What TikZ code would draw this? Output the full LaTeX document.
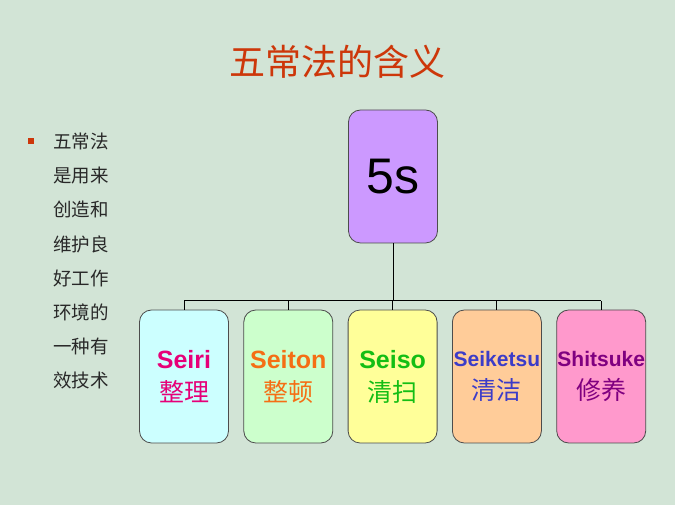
\documentclass[tikz,border=0pt]{standalone}
\usepackage{fontspec}
\setsansfont{Liberation Sans}
\newfontfamily\cjk{Noto Sans CJK SC}
\usepackage{xcolor}
\usepackage{tikz}
\usetikzlibrary{positioning}

\definecolor{bgcolor}{RGB}{210,228,214}
\definecolor{titlered}{RGB}{205,55,10}
\definecolor{textgray}{RGB}{40,40,40}
\definecolor{rootfill}{RGB}{204,153,255}
\definecolor{seirifill}{RGB}{204,255,255}
\definecolor{seitonfill}{RGB}{204,255,204}
\definecolor{seisofill}{RGB}{255,255,153}
\definecolor{seiketsufill}{RGB}{255,204,153}
\definecolor{shitsukefill}{RGB}{255,153,204}
\definecolor{seiricol}{RGB}{230,0,120}
\definecolor{seitoncol}{RGB}{245,110,20}
\definecolor{seisocol}{RGB}{20,190,20}
\definecolor{seiketsucol}{RGB}{60,60,200}
\definecolor{shitsukecol}{RGB}{128,0,128}

\begin{document}
\begin{tikzpicture}[
    x=1pt, y=1pt,
    node distance=14.5pt,
    box/.style={rectangle, draw=black!70, line width=0.8pt, rounded corners=12pt, minimum width=89pt, minimum height=133pt, inner sep=0pt, align=center},
    child/.style={box, font=\sffamily\bfseries\fontsize{25}{33}\selectfont},
    link/.style={black, line width=1pt},
    bullet/.style={rectangle, fill=titlered, minimum size=6pt, inner sep=0pt}
]

% Background
\fill[bgcolor] (0,0) rectangle (675,505);
\useasboundingbox (0,0) rectangle (675,505);

% Title
\node[text=titlered, font=\cjk\fontsize{36}{40}\selectfont] (title) at (337,443) {五常法的含义};

% Left description
\node[bullet] (dot) at (31,364) {};
\node[anchor=north west, inner sep=0pt, align=left, text=textgray, font=\cjk\fontsize{18.5}{34.1}\selectfont] (desc) at (53,372) {五常法\\是用来\\创造和\\维护良\\好工作\\环境的\\一种有\\效技术};

% Root
\node[box, fill=rootfill, font=\sffamily\fontsize{50}{56}\selectfont] (root) at (393,328.5) {5s};

% Children
\node[child, fill=seirifill, text=seiricol] (seiri) at (184,128.5) {Seiri\\{\mdseries\cjk 整理}};
\node[child, fill=seitonfill, text=seitoncol, right=of seiri] (seiton) {Seiton\\{\mdseries\cjk 整顿}};
\node[child, fill=seisofill, text=seisocol, right=of seiton] (seiso) {Seiso\\{\mdseries\cjk 清扫}};
\node[child, fill=seiketsufill, text=seiketsucol, right=of seiso] (seiketsu) {{\fontsize{21}{33}\selectfont Seiketsu}\\{\mdseries\cjk 清洁}};
\node[child, fill=shitsukefill, text=shitsukecol, right=of seiketsu] (shitsuke) {{\fontsize{21}{33}\selectfont Shitsuke}\\{\mdseries\cjk 修养}};

% Connectors
\coordinate (bar) at (393,204);
\draw[link] (root.south) -- (bar);
\draw[link] (seiri.north |- bar) -- (shitsuke.north |- bar);
\foreach \n in {seiri,seiton,seiso,seiketsu,shitsuke}
    \draw[link] (\n.north) -- (\n.north |- bar);

\end{tikzpicture}
\end{document}
